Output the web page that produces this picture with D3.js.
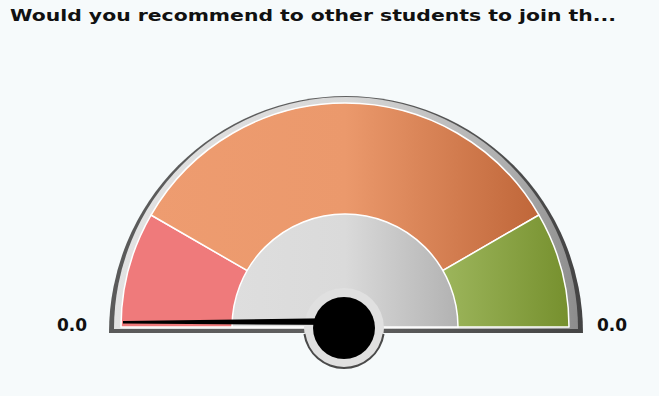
<!DOCTYPE html>
<html>
<head>
<meta charset="utf-8">
<script src="https://cdn.jsdelivr.net/npm/d3@7"></script>
<style>
  html, body { margin: 0; padding: 0; background: #f6fafb; }
  svg { display: block; }
</style>
</head>
<body>
<div id="chart"></div>
<script>
const width = 659;
const height = 396;

// data
const title = 'Would you recommend to other students to join th...';
const bandLimits = [0, 1, 5, 6];
const bandColors = ['url(#gRed)', 'url(#gOrange)', 'url(#gGreen)'];
const endLabels = ['0.0', '0.0'];
const needleValue = 0;

const cx = 345;
const cy = 327;

const angle = d3.scaleLinear()
  .domain([bandLimits[0], bandLimits[bandLimits.length - 1]])
  .range([-Math.PI / 2, Math.PI / 2]);

const svg = d3.select('#chart').append('svg')
  .attr('width', width)
  .attr('height', height);

svg.append('rect')
  .attr('width', width)
  .attr('height', height)
  .attr('fill', '#f6fafb');

const defs = svg.append('defs');

// gradients are given in page x, converted to the gauge's own frame
function gradient(id, x1, x2, stops) {
  let g = defs.append('linearGradient')
    .attr('id', id)
    .attr('gradientUnits', 'userSpaceOnUse')
    .attr('x1', x1 - cx).attr('x2', x2 - cx)
    .attr('y1', 0).attr('y2', 0);
  stops.forEach(s => g.append('stop').attr('offset', s[0]).attr('stop-color', s[1]));
}

gradient('gRed', 120, 250, [[0, '#ef7a7b'], [1, '#ef7a7b']]);
gradient('gOrange', 150, 540, [[0, '#ee9c70'], [0.5, '#eb996c'], [1, '#bf6639']]);
gradient('gGreen', 445, 568, [[0, '#9cb55b'], [1, '#76902e']]);
gradient('gGrey', 232, 458, [[0, '#dedede'], [0.5, '#dadada'], [1, '#b2b2b2']]);
gradient('gFrame', 110, 582, [[0, '#e2e2e2'], [0.5, '#d8d8d8'], [0.85, '#acacac'], [1, '#8a8a8a']]);
gradient('gRim', 110, 582, [[0, '#5a5a5a'], [0.5, '#606060'], [1, '#444']]);

// title
svg.append('text')
  .attr('x', 10)
  .attr('y', 21)
  .attr('font-family', 'DejaVu Sans, Verdana, sans-serif')
  .attr('font-weight', 'bold')
  .attr('font-size', 15)
  .attr('textLength', 606)
  .attr('lengthAdjust', 'spacingAndGlyphs')
  .attr('fill', '#111')
  .text(title);

const arc = d3.arc();
const half = {startAngle: -Math.PI / 2, endAngle: Math.PI / 2};

// frame
const gFrame = svg.append('g').attr('transform', `translate(${cx},${cy})`);

gFrame.append('path')
  .attr('transform', 'translate(1,6)')
  .attr('d', arc({innerRadius: 0, outerRadius: 237, ...half}))
  .attr('fill', 'url(#gRim)');

gFrame.append('path')
  .attr('transform', 'translate(1,2)')
  .attr('d', arc({innerRadius: 0, outerRadius: 232, ...half}))
  .attr('fill', 'url(#gFrame)');

// bands
const gBands = svg.append('g').attr('transform', `translate(${cx},${cy})`);

gBands.selectAll('path.band')
  .data(d3.range(bandLimits.length - 1))
  .join('path')
  .attr('class', 'band')
  .attr('d', i => arc({
    innerRadius: 0,
    outerRadius: 224,
    startAngle: angle(bandLimits[i]),
    endAngle: angle(bandLimits[i + 1])
  }))
  .attr('fill', i => bandColors[i])
  .attr('stroke', '#fff')
  .attr('stroke-width', 1.5)
  .attr('stroke-linejoin', 'round');

// inner grey half disc
gBands.append('path')
  .attr('d', arc({innerRadius: 0, outerRadius: 113, ...half}))
  .attr('fill', 'url(#gGrey)')
  .attr('stroke', '#fff')
  .attr('stroke-width', 1.5);

// hub ring
const gHub = svg.append('g').attr('transform', `translate(${cx - 1},${cy + 1})`);

gHub.append('circle')
  .attr('r', 40)
  .attr('fill', '#e0e0e0');

gHub.append('path')
  .attr('d', arc({innerRadius: 39, outerRadius: 41, startAngle: Math.PI / 2 + 0.15, endAngle: 3 * Math.PI / 2 - 0.15}))
  .attr('fill', '#4a4a4a');

// needle: drawn along +x, turned to the value's angle
const needleLen = 221;
const needle = gHub.append('g')
  .attr('transform', `rotate(${angle(needleValue) * 180 / Math.PI - 90})`);

needle.append('path')
  .attr('d', d3.line()([
    [0, 3], [needleLen, 4.5], [needleLen, 7], [0, 10]
  ]))
  .attr('fill', '#000');

gHub.append('circle')
  .attr('r', 31)
  .attr('fill', '#000');

// end labels
svg.selectAll('text.end')
  .data(endLabels)
  .join('text')
  .attr('class', 'end')
  .attr('x', (d, i) => i === 0 ? 87 : 597)
  .attr('y', 331)
  .attr('text-anchor', (d, i) => i === 0 ? 'end' : 'start')
  .attr('font-family', 'DejaVu Sans, Verdana, sans-serif')
  .attr('font-weight', 'bold')
  .attr('font-size', 17)
  .attr('fill', '#111')
  .text(d => d);
</script>
</body>
</html>
